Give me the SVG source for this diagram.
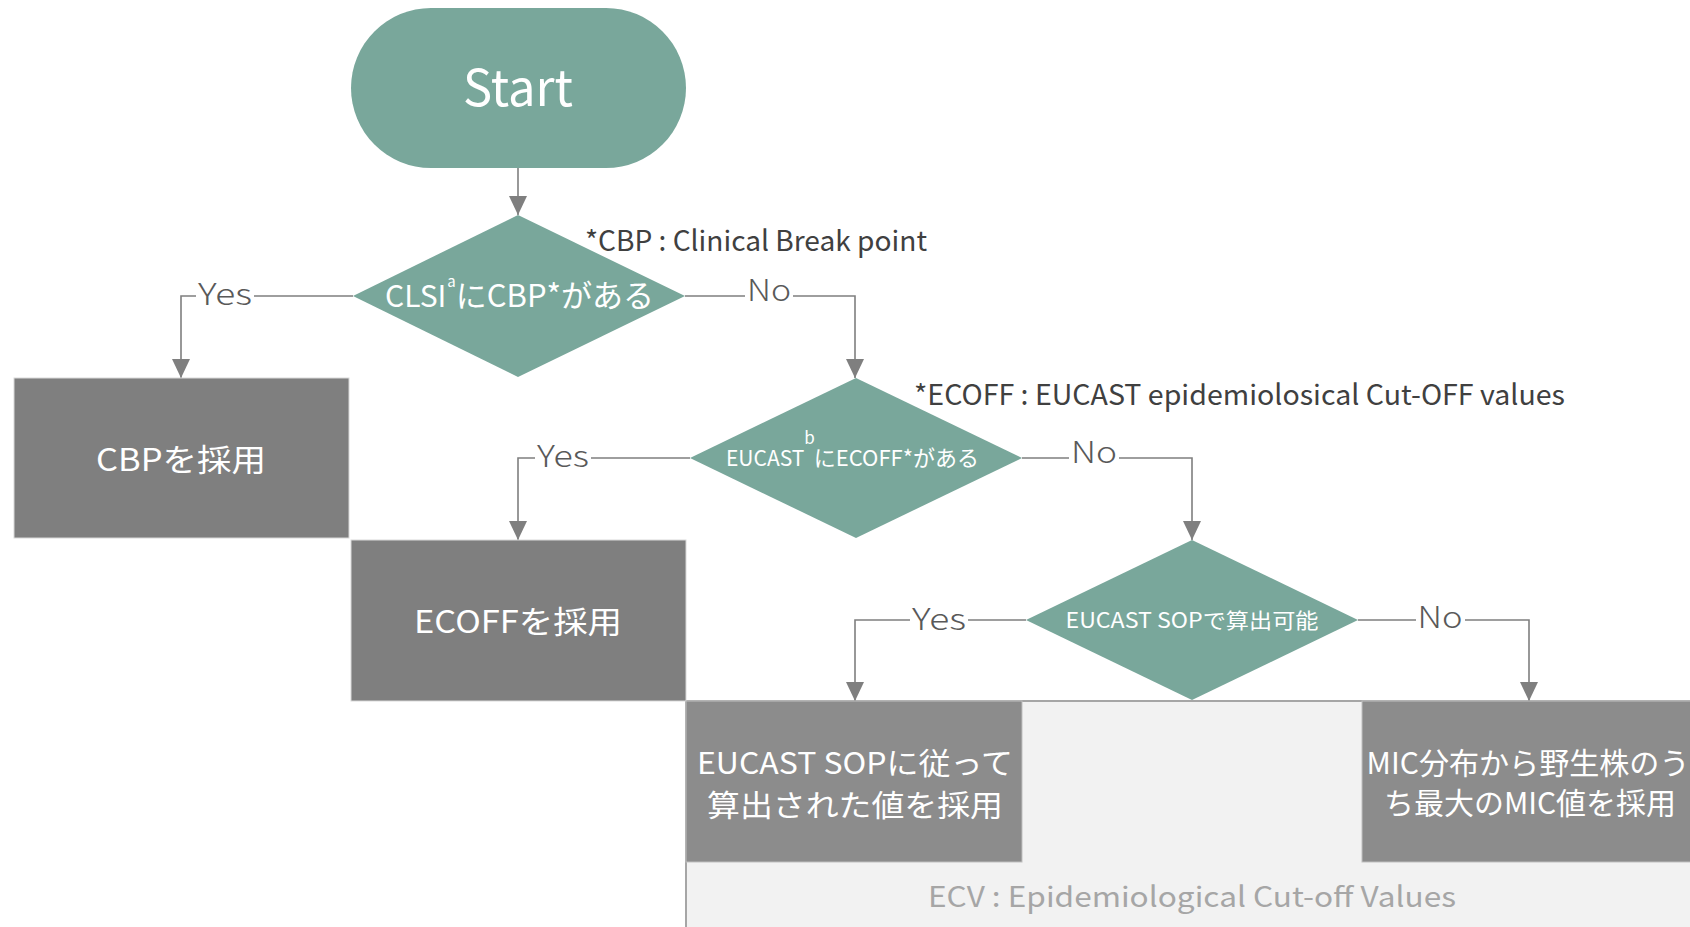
<svg xmlns="http://www.w3.org/2000/svg" width="1690" height="927" viewBox="0 0 1690 927">
<defs>
<style>
.t{font-family:"Noto Sans CJK JP","Noto Sans",sans-serif;}
.w{fill:#ffffff;text-anchor:middle;}
.lbl{fill:#595959;font-size:30px;text-anchor:middle;font-weight:300;}
.note{fill:#404040;font-size:28px;}
.dia{fill:#79a79b;}
.box{fill:#7f7f7f;stroke:#d9d9d9;stroke-width:1;}
.box2{fill:#8c8c8c;stroke:#bfbfbf;stroke-width:1;}
.conn{fill:none;stroke:#7f7f7f;stroke-width:1.6;}
.lbg{fill:#ffffff;}
</style>
<marker id="arr" markerUnits="userSpaceOnUse" markerWidth="20" markerHeight="20" viewBox="0 0 20 20" refX="19" refY="10" orient="auto">
<path d="M0,1 L19,10 L0,19 Z" fill="#7f7f7f"/>
</marker>
</defs>
<rect width="1690" height="927" fill="#ffffff"/>

<g id="panel">
<rect x="686" y="701" width="1010" height="232" fill="#f2f2f2" stroke="#a6a6a6" stroke-width="2"/>
<text class="t" x="1192" y="907" font-size="28" fill="#a6a6a6" text-anchor="middle" textLength="528" lengthAdjust="spacingAndGlyphs">ECV : Epidemiological Cut-off Values</text>
</g>

<g id="connectors">
<line class="conn" x1="518" y1="168" x2="518" y2="215" marker-end="url(#arr)"/>
<polyline class="conn" points="353,296 181,296 181,378" marker-end="url(#arr)"/>
<polyline class="conn" points="685,296 855,296 855,378" marker-end="url(#arr)"/>
<polyline class="conn" points="690,458 518,458 518,540" marker-end="url(#arr)"/>
<polyline class="conn" points="1022,458 1192,458 1192,540" marker-end="url(#arr)"/>
<polyline class="conn" points="1026,620 855,620 855,701" marker-end="url(#arr)"/>
<polyline class="conn" points="1358,620 1529,620 1529,701" marker-end="url(#arr)"/>
<rect class="lbg" x="196" y="276" width="58" height="38"/>
<text class="t lbl" x="225" y="305" textLength="54" lengthAdjust="spacingAndGlyphs">Yes</text>
<rect class="lbg" x="745" y="272" width="48" height="38"/>
<text class="t lbl" x="769" y="301" textLength="44" lengthAdjust="spacingAndGlyphs">No</text>
<rect class="lbg" x="535" y="438" width="56" height="38"/>
<text class="t lbl" x="563" y="467" textLength="52" lengthAdjust="spacingAndGlyphs">Yes</text>
<rect class="lbg" x="1069" y="434" width="50" height="38"/>
<text class="t lbl" x="1094" y="463" textLength="46" lengthAdjust="spacingAndGlyphs">No</text>
<rect class="lbg" x="910" y="601" width="58" height="38"/>
<text class="t lbl" x="939" y="630" textLength="54" lengthAdjust="spacingAndGlyphs">Yes</text>
<rect class="lbg" x="1416" y="599" width="49" height="38"/>
<text class="t lbl" x="1440" y="628" textLength="45" lengthAdjust="spacingAndGlyphs">No</text>
</g>

<g id="start">
<rect x="351" y="8" width="335" height="160" rx="80" ry="80" fill="#79a79b"/>
<text class="t w" x="518" y="106" font-size="50" textLength="110" lengthAdjust="spacingAndGlyphs">Start</text>
</g>

<g id="d1">
<polygon class="dia" points="518,215 685,296 518,377 353,296"/>
<text class="t" x="385" y="307" font-size="30" fill="#ffffff">CLSI<tspan font-size="15" dx="1" dy="-20">a</tspan><tspan font-size="31" dy="20">にCBP*がある</tspan></text>
<text class="t note" x="585" y="251" textLength="342" lengthAdjust="spacingAndGlyphs">*CBP : Clinical Break point</text>
</g>

<g id="cbp">
<rect class="box" x="14" y="378" width="335" height="160"/>
<text class="t w" x="181" y="471" font-size="31" textLength="170" lengthAdjust="spacingAndGlyphs">CBPを採用</text>
</g>

<g id="d2">
<polygon class="dia" points="856,378 1022,458 856,538 690,458"/>
<text class="t" x="726" y="466" font-size="21" fill="#ffffff">EUCAST<tspan font-size="17" dx="0" dy="-22">b</tspan><tspan font-size="22" dx="-1" dy="22">にECOFF*がある</tspan></text>
<text class="t note" x="914" y="405" textLength="651" lengthAdjust="spacingAndGlyphs">*ECOFF : EUCAST epidemiolosical Cut-OFF values</text>
</g>

<g id="ecoff">
<rect class="box" x="351" y="540" width="335" height="161"/>
<text class="t w" x="518" y="633" font-size="31" textLength="208" lengthAdjust="spacingAndGlyphs">ECOFFを採用</text>
</g>

<g id="d3">
<polygon class="dia" points="1192,540 1358,620 1192,700 1026,620"/>
<text class="t w" x="1192" y="628" font-size="21" textLength="253" lengthAdjust="spacingAndGlyphs">EUCAST SOPで算出可能</text>
</g>

<g id="sop">
<rect class="box2" x="686" y="701" width="336" height="161"/>
<text class="t w" x="855" y="774" font-size="30" textLength="316" lengthAdjust="spacingAndGlyphs">EUCAST SOPに従って</text>
<text class="t w" x="855" y="816" font-size="30" textLength="296" lengthAdjust="spacingAndGlyphs">算出された値を採用</text>
</g>

<g id="mic">
<rect class="box2" x="1362" y="701" width="340" height="161"/>
<text class="t w" x="1528" y="774" font-size="30" textLength="323" lengthAdjust="spacingAndGlyphs">MIC分布から野生株のう</text>
<text class="t w" x="1530" y="814" font-size="30" textLength="292" lengthAdjust="spacingAndGlyphs">ち最大のMIC値を採用</text>
</g>
</svg>
